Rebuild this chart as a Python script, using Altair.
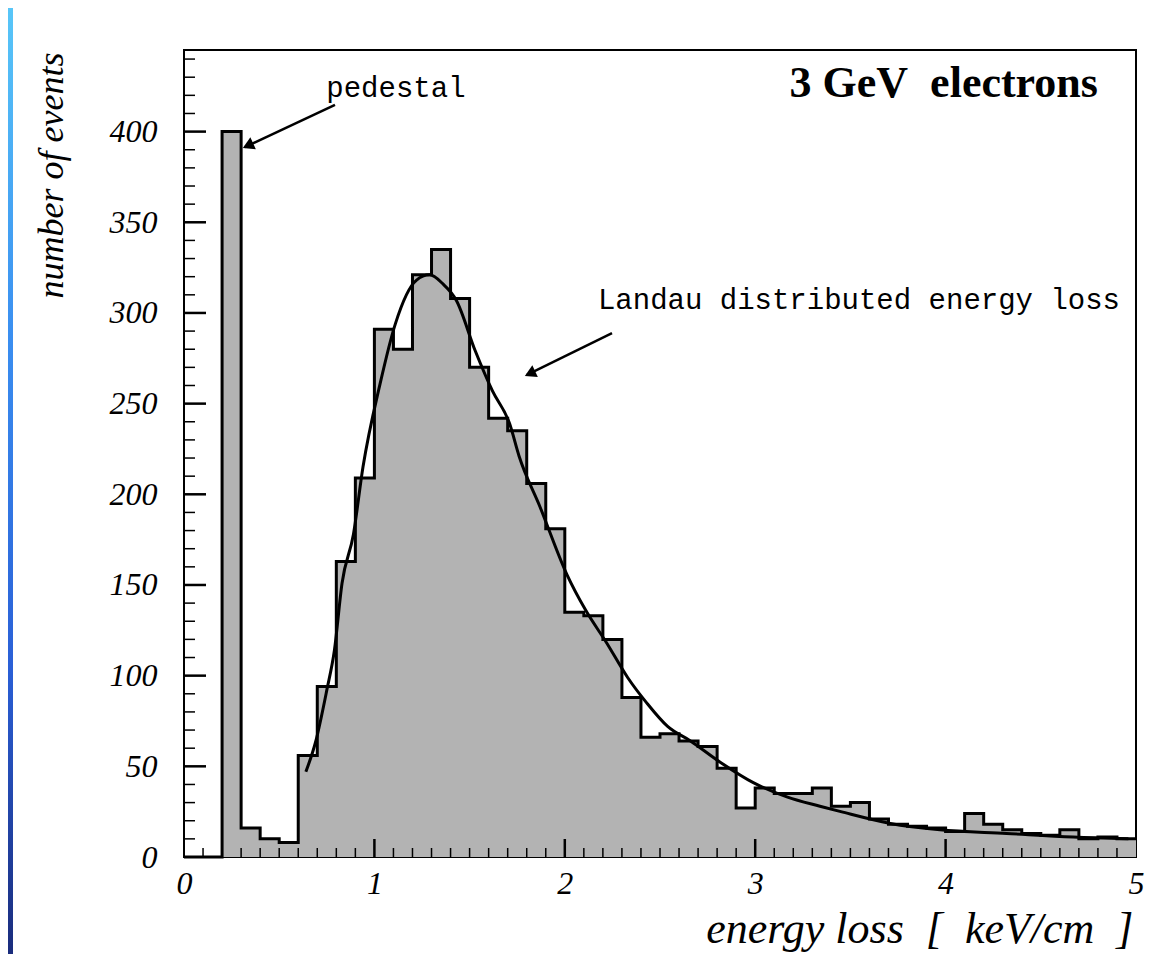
import altair as alt
import pandas as pd

# ---------------- data ----------------
bin_edges = [0.0, 0.1, 0.2, 0.3, 0.4, 0.5, 0.6, 0.7, 0.8, 0.9,
             1.0, 1.1, 1.2, 1.3, 1.4, 1.5, 1.6, 1.7, 1.8, 1.9,
             2.0, 2.1, 2.2, 2.3, 2.4, 2.5, 2.6, 2.7, 2.8, 2.9,
             3.0, 3.1, 3.2, 3.3, 3.4, 3.5, 3.6, 3.7, 3.8, 3.9,
             4.0, 4.1, 4.2, 4.3, 4.4, 4.5, 4.6, 4.7, 4.8, 4.9, 5.0]
counts = [0, 0, 400, 16, 10, 8, 56, 94, 163, 209,
          291, 280, 321, 335, 308, 270, 242, 235, 206, 181,
          135, 133, 120, 88, 66, 68, 64, 61, 49, 27,
          38, 35, 35, 38, 28, 30, 21, 18, 17, 16,
          14, 24, 18, 15, 13, 12, 15, 10, 11, 10]

landau_x = [0.64, 0.69, 0.75, 0.79, 0.83, 0.89, 0.94, 1.03, 1.11, 1.22,
            1.29, 1.36, 1.43, 1.53, 1.62, 1.71, 1.76, 1.87, 2.01, 2.11,
            2.22, 2.33, 2.43, 2.54, 2.66, 2.82, 2.99, 3.17, 3.34, 3.45,
            3.71, 3.97, 4.32, 4.67, 4.96]
landau_y = [47, 63, 92, 114, 151, 178, 215, 261, 294, 318,
            321, 316, 307, 279, 257, 239, 221, 193, 156, 136,
            118, 99, 85, 72, 64, 52, 41, 33, 28, 25,
            18.5, 15, 13, 11, 10]

y_label_values = [0, 50, 100, 150, 200, 250, 300, 350, 400]
x_label_values = [0, 1, 2, 3, 4, 5]
y_minor_ticks = [v for v in range(10, 441, 10) if v % 50 != 0]
y_major_ticks = [50, 100, 150, 200, 250, 300, 350, 400]
x_major_ticks = [1, 2, 3, 4]
x_minor_ticks = [round(0.1 * i, 1) for i in range(1, 50) if i % 10 != 0]

arrow_x = [0.793, 2.248]
arrow_y = [414.7, 288.9]
arrow_x2 = [0.320, 1.801]
arrow_y2 = [391.5, 265.8]
head_x = [0.345, 1.826]
head_y = [392.7, 267.0]

# ---------------- chart ----------------
W, H = 952, 807
xs = alt.Scale(domain=[0, 5], nice=False, zero=False)
ys = alt.Scale(domain=[0, 445], nice=False)

hist_df = pd.DataFrame({"x": bin_edges, "y": counts + [counts[-1]]})
curve_df = pd.DataFrame({"x": landau_x, "y": landau_y})

SERIF = "Liberation Serif"
MONO = "Liberation Mono"

x_axis = alt.Axis(values=x_label_values, format="d", grid=False, ticks=False,
                  domain=False, labelFont=SERIF, labelFontStyle="italic",
                  labelFontSize=32, labelColor="black", labelPadding=11,
                  labelFlush=False, labelOverlap=False,
                  title="energy loss\u00a0 [\u00a0 keV/cm\u00a0 ]",
                  titleFont=SERIF, titleFontStyle="italic",
                  titleFontWeight="normal", titleFontSize=44,
                  titleColor="black", titleX=949, titleY=85,
                  titleAlign="right", titleBaseline="alphabetic",
                  titleAnchor="end")
y_axis = alt.Axis(values=y_label_values, format="d", grid=False, ticks=False,
                  domain=False, labelFont=SERIF, labelFontStyle="italic",
                  labelFontSize=32, labelColor="black", labelPadding=27,
                  labelOverlap=False, labelFlush=False,
                  title="number of events", titleFont=SERIF,
                  titleFontStyle="italic", titleFontWeight="normal",
                  titleFontSize=36, titleColor="black", titleAngle=270,
                  titleX=-122, titleY=2, titleAlign="right",
                  titleBaseline="alphabetic", titleAnchor="end")

strip = alt.Chart(alt.Data(values=[{"a": 1}])).mark_rect(
    color=alt.Gradient(
        gradient="linear",
        stops=[alt.GradientStop(color="#58c6f8", offset=0),
               alt.GradientStop(color="#3a8ef0", offset=0.35),
               alt.GradientStop(color="#2a5fd6", offset=0.7),
               alt.GradientStop(color="#1a2c7c", offset=1)],
        x1=0, x2=0, y1=0, y2=1)
).encode(x=alt.value(-176), x2=alt.value(-171), y=alt.value(-42), y2=alt.value(904))

area = alt.Chart(hist_df).mark_area(interpolate="step-after", color="#b3b3b3").encode(
    x=alt.X("x:Q", scale=xs, axis=x_axis),
    y=alt.Y("y:Q", scale=ys, axis=y_axis),
)
outline = alt.Chart(hist_df).mark_line(interpolate="step-after", color="black",
                                       strokeWidth=3).encode(
    x=alt.X("x:Q", scale=xs), y=alt.Y("y:Q", scale=ys))

curve = alt.Chart(curve_df).mark_line(interpolate="monotone", color="black",
                                      strokeWidth=3).encode(
    x=alt.X("x:Q", scale=xs), y=alt.Y("y:Q", scale=ys))

ymaj = alt.Chart(pd.DataFrame({"v": y_major_ticks})).mark_rule(
    color="black", strokeWidth=2.5).encode(
    y=alt.Y("v:Q", scale=ys), x=alt.value(0), x2=alt.value(22))
ymin = alt.Chart(pd.DataFrame({"v": y_minor_ticks})).mark_rule(
    color="black", strokeWidth=1.5).encode(
    y=alt.Y("v:Q", scale=ys), x=alt.value(0), x2=alt.value(11))
xmaj = alt.Chart(pd.DataFrame({"v": x_major_ticks})).mark_rule(
    color="black", strokeWidth=2.5).encode(
    x=alt.X("v:Q", scale=xs), y=alt.value(H), y2=alt.value(H - 18))
xmin = alt.Chart(pd.DataFrame({"v": x_minor_ticks})).mark_rule(
    color="black", strokeWidth=1.5).encode(
    x=alt.X("v:Q", scale=xs), y=alt.value(H), y2=alt.value(H - 9))

arr_df = pd.DataFrame({"x": arrow_x, "y": arrow_y, "x2": arrow_x2, "y2": arrow_y2})
arrows = alt.Chart(arr_df).mark_rule(color="black", strokeWidth=2.5).encode(
    x=alt.X("x:Q", scale=xs), y=alt.Y("y:Q", scale=ys),
    x2="x2:Q", y2="y2:Q")
heads = alt.Chart(pd.DataFrame({"x": head_x, "y": head_y})).mark_point(
    shape="triangle", filled=True, color="black", size=170, angle=245,
    opacity=1).encode(x=alt.X("x:Q", scale=xs), y=alt.Y("y:Q", scale=ys))

notes_df = pd.DataFrame({
    "x": [1.113, 3.545],
    "y": [424, 307],
    "t": ["pedestal", "Landau distributed energy loss"],
})
notes = alt.Chart(notes_df).mark_text(font=MONO, fontSize=29, color="black",
                                      align="center", baseline="middle").encode(
    x=alt.X("x:Q", scale=xs), y=alt.Y("y:Q", scale=ys), text="t:N")

title_df = pd.DataFrame({"x": [4.80], "y": [419], "t": ["3 GeV\u00a0 electrons"]})
title_txt = alt.Chart(title_df).mark_text(font=SERIF, fontSize=44, fontWeight="bold",
                                          color="black", align="right",
                                          baseline="alphabetic").encode(
    x=alt.X("x:Q", scale=xs), y=alt.Y("y:Q", scale=ys), text="t:N")

chart = alt.layer(
    strip, area, outline, curve, ymaj, ymin, xmaj, xmin, arrows, heads, notes, title_txt
).properties(
    width=W, height=H,
    autosize=alt.AutoSizeParams(type="none"),
    padding={"left": 176, "top": 42, "right": 27, "bottom": 97},
    background="white",
).configure_view(stroke="black", strokeWidth=2)

chart.save("out.html", embed_options={"renderer": "svg", "actions": False})
